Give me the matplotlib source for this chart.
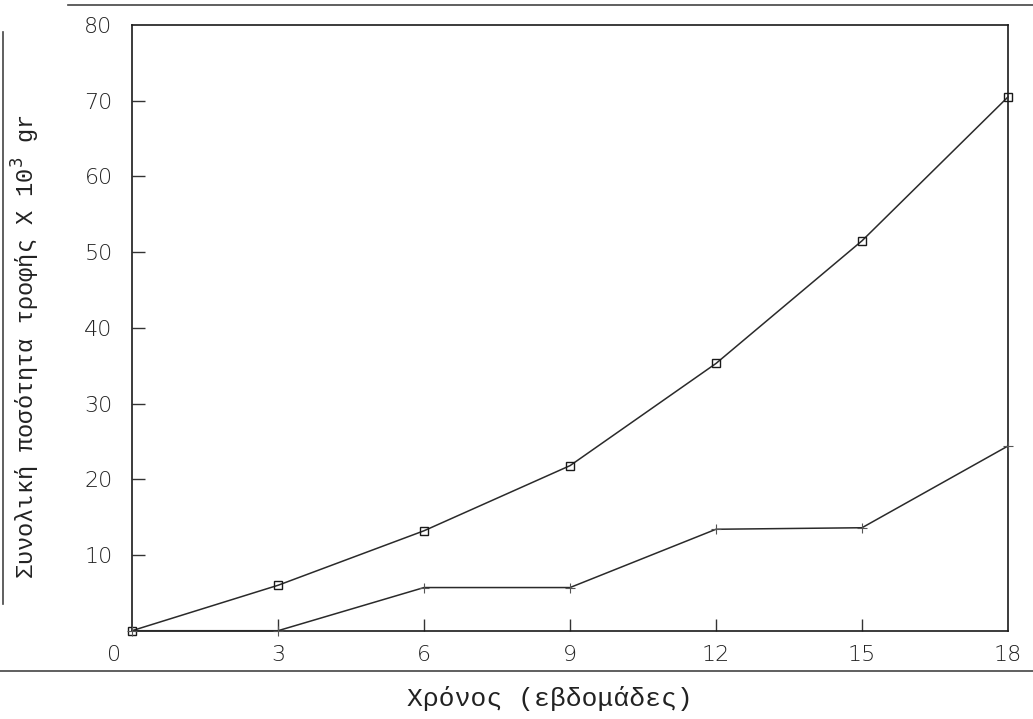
import numpy as np
import matplotlib
matplotlib.use("Agg")
import matplotlib.pyplot as plt
import matplotlib.transforms as mtransforms
from matplotlib.lines import Line2D

# weeks and cumulative feed (x 10^3 gr)
weeks = [0, 3, 6, 9, 12, 15, 18]
feed_upper = [0, 6.0, 13.2, 21.8, 35.3, 51.5, 70.5]
feed_lower = [0, 0, 5.7, 5.7, 13.4, 13.6, 24.4]

x_ticks = [0, 3, 6, 9, 12, 15, 18]
x_ticklabels = ['0', '3', '6', '9', '12', '15', '18']
y_ticks = [10, 20, 30, 40, 50, 60, 70, 80]

fig = plt.figure(figsize=(10.33, 7.19), dpi=100)
ax = fig.add_axes([0.1278, 0.1228, 0.848, 0.8424])

ax.plot(weeks, feed_upper, color='#2a2a2a', lw=1.1, marker='s', ms=6,
        mfc='none', mec='#1a1a1a', mew=1.0, clip_on=False, zorder=3)
ax.plot(weeks, feed_lower, color='#2a2a2a', lw=1.1, marker='+', ms=7,
        mec='#555555', mew=0.8, clip_on=False, zorder=3)

ax.set_xlim(0, 18)
ax.set_ylim(0, 80)

for s in ax.spines.values():
    s.set_linewidth(1.2)
    s.set_color('#1a1a1a')

tick_font = dict(family='DejaVu Sans', weight='light', size=16)
ax.set_xticks(x_ticks)
ax.set_xticklabels(x_ticklabels, fontdict=tick_font, color='#222222')
ax.set_yticks(y_ticks)
ax.set_yticklabels([str(v) for v in y_ticks], fontdict=tick_font, color='#222222')
ax.tick_params(axis='both', direction='in', length=9, width=1.0, color='#333333')
ax.tick_params(axis='x', pad=10)
ax.tick_params(axis='y', pad=14)

# hide the tick marks that fall on the frame corners
for t in ax.xaxis.get_major_ticks():
    if t.get_loc() in (0, 18):
        t.tick1line.set_visible(False)
for t in ax.yaxis.get_major_ticks():
    if t.get_loc() == 80:
        t.tick1line.set_visible(False)

# nudge the "0" label left of the corner
lbl0 = ax.get_xticklabels()[0]
lbl0.set_transform(lbl0.get_transform() +
                   mtransforms.ScaledTranslation(-0.18, 0, fig.dpi_scale_trans))

ax.set_xlabel('Χρόνος (εβδομάδες)', family='Liberation Mono', size=19,
              color='#222222')
ax.xaxis.set_label_coords(0.477, -0.092)
ax.set_ylabel('Συνολική ποσότητα τροφής Χ 10$^3$ gr', family='Liberation Mono',
              size=17, color='#222222', va='center')
ax.yaxis.set_label_coords(-0.121, 0.47)

# page rules around the figure
fig.add_artist(Line2D([0.066, 1.0], [0.993, 0.993], color='#444444', lw=1.2))
fig.add_artist(Line2D([0.0, 1.0], [0.067, 0.067], color='#444444', lw=1.2))
fig.add_artist(Line2D([0.003, 0.003], [0.16, 0.955], color='#444444', lw=1.2))

fig.savefig('out.png', dpi=100, facecolor='white')
